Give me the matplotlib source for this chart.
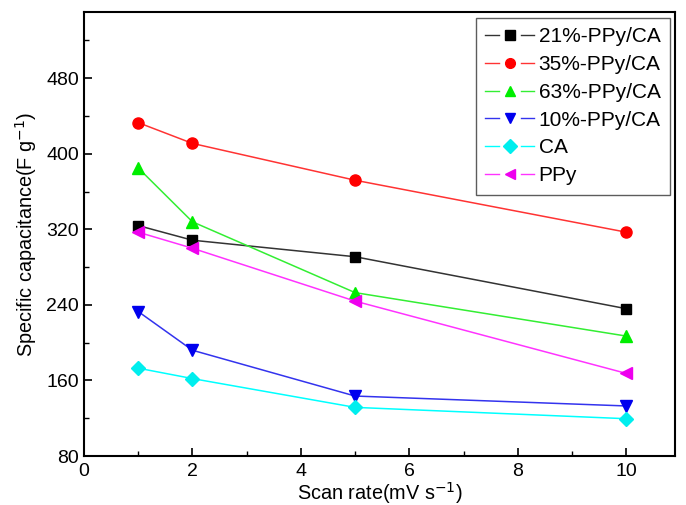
import matplotlib
matplotlib.use("Agg")
import matplotlib.pyplot as plt
from matplotlib.ticker import MultipleLocator
from matplotlib.legend_handler import HandlerBase
from matplotlib.lines import Line2D

plt.rcParams['font.family'] = ['Liberation Sans', 'DejaVu Sans']

scan_rate = [1, 2, 5, 10]
s21 = [324, 308.5, 291, 236]
s35 = [433, 411, 372, 317]
s63 = [385, 328, 253, 207]
s10 = [233, 192, 143.5, 133]
sCA = [173, 162, 131.5, 119.5]
sPPy = [317, 300, 244, 167.5]

series = [
    ("21%-PPy/CA", s21, "#333333", "black", "s"),
    ("35%-PPy/CA", s35, "#ff3333", "red", "o"),
    ("63%-PPy/CA", s63, "#33ee33", "#00ee00", "^"),
    ("10%-PPy/CA", s10, "#3333ee", "#0000ee", "v"),
    ("CA", sCA, "#00ffff", "#00eeee", "D"),
    ("PPy", sPPy, "#ff33ff", "#ee00ee", "<"),
]


class GapHandler(HandlerBase):
    def create_artists(self, legend, orig_handle, xdescent, ydescent,
                       width, height, fontsize, trans):
        y = height / 2 - ydescent
        x0 = -xdescent
        c = orig_handle.get_color()
        seg = width * 0.28
        l1 = Line2D([x0, x0 + seg], [y, y], color=c, lw=1.0)
        l2 = Line2D([x0 + width - seg, x0 + width], [y, y], color=c, lw=1.0)
        m = Line2D([x0 + width / 2], [y], marker=orig_handle.get_marker(),
                   markersize=7, markerfacecolor=orig_handle.get_markerfacecolor(),
                   markeredgecolor=orig_handle.get_markeredgecolor(), linestyle='none')
        for a in (l1, l2, m):
            a.set_transform(trans)
        return [l1, l2, m]


fig = plt.figure(figsize=(6.86, 5.05), dpi=100)
ax = fig.add_axes([0.1224, 0.097, 0.8616, 0.879])

handles = []
for label, vals, lc, mc, m in series:
    ms = {"s": 7, "D": 7, "o": 8}.get(m, 9)
    h, = ax.plot(scan_rate, vals, color=lc, lw=1.1, marker=m, markersize=ms,
                 markerfacecolor=mc, markeredgecolor=mc, label=label)
    handles.append(h)

ax.set_xlim(0, 10.9)
ax.set_ylim(80, 550)
ax.xaxis.set_major_locator(MultipleLocator(2))
ax.xaxis.set_minor_locator(MultipleLocator(1))
ax.set_yticks([80, 160, 240, 320, 400, 480])
ax.yaxis.set_minor_locator(MultipleLocator(40))
ax.tick_params(which='both', direction='in', top=False, right=False, labelsize=14)
ax.tick_params(which='major', length=6, width=1.2)
ax.tick_params(which='minor', length=3.5, width=1)
ax.tick_params(axis='x', pad=5)
for sp in ax.spines.values():
    sp.set_linewidth(1.5)

ax.set_xlabel("Scan rate(mV s$^{-1}$)", fontsize=14.3, labelpad=0)
ax.set_ylabel("Specific capacitance(F g$^{-1}$)", fontsize=14.3, labelpad=5)

leg = ax.legend(handles=handles, loc='upper right', fontsize=15, frameon=True,
                fancybox=False, edgecolor='#333333', handlelength=2.36,
                handletextpad=0.2, labelspacing=0.42, borderpad=0.45,
                borderaxespad=0, bbox_to_anchor=(0.9915, 0.9865),
                handler_map={Line2D: GapHandler()})
leg.get_frame().set_linewidth(1.0)

fig.savefig("out.png", dpi=100)
